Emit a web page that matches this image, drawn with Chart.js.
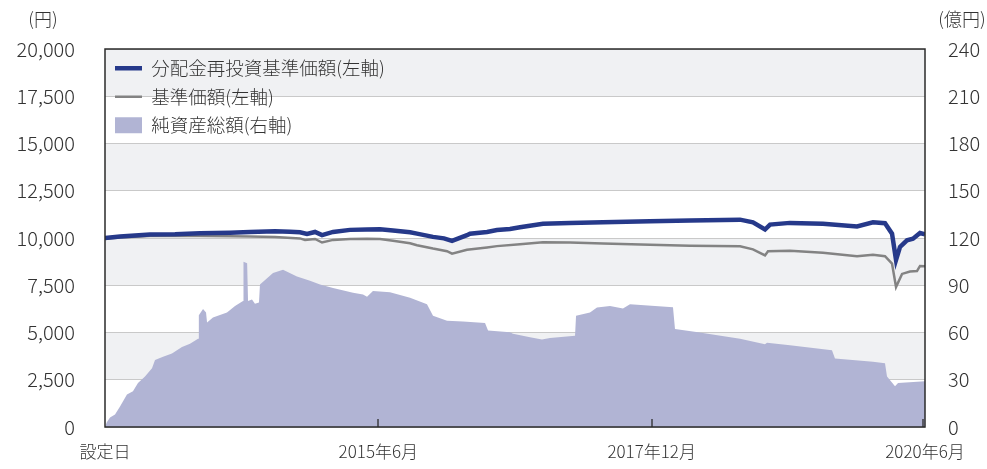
<!DOCTYPE html>
<html><head><meta charset="utf-8">
<script src="https://cdn.jsdelivr.net/npm/chart.js@4/dist/chart.umd.min.js"></script>
<style>html,body{margin:0;padding:0;background:#fff;overflow:hidden}</style>
</head><body>
<canvas id="c" width="987" height="469"></canvas>
<script>
// ---- data (x = months since 設定日) ----
const xTickValues = [0, 30, 60, 90];
const xTickLabels = ['設定日', '2015年6月', '2017年12月', '2020年6月'];
const leftUnit = '(円)';
const rightUnit = '(億円)';
const seriesNames = ['分配金再投資基準価額(左軸)', '基準価額(左軸)', '純資産総額(右軸)'];

const reinvX = [0, 1.65, 4.94, 7.68, 10.43, 13.72, 15.91, 18.66, 20.3, 21.4, 22.17, 23.05, 23.82, 25.03, 26.89, 28.76, 30.18, 31.61, 33.48, 34.24, 36.0, 37.2, 38.09, 39.73, 40.06, 41.93, 43.02, 44.45, 45.55, 48.07, 51.04, 54.66, 59.82, 64.21, 69.7, 71.12, 72.44, 72.99, 75.18, 78.8, 82.54, 84.29, 85.61, 86.38, 86.82, 87.26, 88.02, 88.68, 89.45, 90];
const reinvY = [10000, 10080, 10180, 10200, 10250, 10280, 10320, 10360, 10330, 10300, 10220, 10320, 10150, 10320, 10430, 10450, 10460, 10400, 10300, 10230, 10060, 9980, 9850, 10150, 10230, 10320, 10420, 10480, 10570, 10750, 10800, 10830, 10880, 10920, 10970, 10830, 10450, 10710, 10800, 10750, 10610, 10830, 10780, 10230, 8840, 9530, 9880, 9960, 10260, 10190];

const baseX = [0, 1.65, 4.94, 7.68, 10.43, 13.72, 15.91, 18.66, 21.4, 21.95, 23.05, 23.82, 25.03, 26.89, 28.76, 30.18, 31.61, 33.48, 34.24, 36.0, 37.54, 38.09, 39.73, 41.93, 43.02, 45.55, 48.07, 51.04, 54.66, 59.82, 64.21, 69.7, 71.12, 72.44, 72.77, 75.18, 78.8, 82.54, 84.29, 85.61, 86.38, 86.82, 87.48, 88.35, 89.12, 89.45, 90];
const baseY = [9960, 10020, 10100, 10120, 10110, 10090, 10080, 10050, 9980, 9900, 9950, 9760, 9900, 9950, 9960, 9950, 9850, 9720, 9620, 9440, 9300, 9170, 9380, 9500, 9570, 9670, 9780, 9760, 9710, 9640, 9590, 9560, 9400, 9080, 9300, 9320, 9220, 9030, 9110, 9040, 8650, 7410, 8100, 8230, 8250, 8520, 8500];

const assetX = [0, 0.2, 0.55, 1.1, 1.65, 2.41, 3.07, 3.62, 4.39, 5.16, 5.49, 6.37, 7.35, 8.45, 9.33, 10.21, 10.3, 10.76, 11.09, 11.2, 11.85, 13.39, 14.27, 15.15, 15.2, 15.6, 15.7, 16.13, 16.46, 16.9, 17.01, 18.44, 19.54, 21.07, 22.5, 23.6, 25.03, 27.22, 28.32, 28.76, 29.41, 31.28, 33.48, 35.34, 36.0, 37.54, 39.29, 41.71, 42.04, 44.45, 44.78, 46.65, 47.96, 48.84, 51.59, 51.7, 53.23, 54.0, 55.43, 56.85, 57.62, 62.34, 62.56, 65.09, 69.7, 72.44, 72.66, 75.18, 79.79, 80.12, 84.29, 85.61, 85.83, 86.71, 87.04, 90];
const assetY = [0, 3, 6, 8, 13, 20.6, 22.7, 28, 32, 37.3, 42.5, 44.6, 46.7, 50.8, 52.9, 56, 71, 75, 72.7, 66.4, 69.6, 72.7, 76.9, 80, 105, 104, 80, 81, 78.3, 79, 90.4, 97.7, 99.8, 95.6, 92.9, 90.4, 88.3, 85.2, 84.2, 82.7, 86.3, 85.6, 82, 78, 70.6, 67.5, 67, 66, 61.3, 60.2, 59.2, 57, 55.6, 56.5, 58, 70.6, 72.7, 75.8, 76.9, 75.2, 78, 76, 62.3, 60.2, 56, 52.5, 53.5, 51.9, 48.8, 43.5, 41.5, 40.4, 32, 25.8, 28, 29];

// ---- styles ----
const NAVY = '#26398a', GRAY = '#838383', LAV = '#b1b4d4', BAND = '#f0f1f3', TXT = '#333333';
const FAMILY = '"Noto Sans CJK JP", "Noto Sans", sans-serif';
Chart.defaults.font.family = FAMILY;
Chart.defaults.font.weight = '300';
Chart.defaults.color = TXT;

const toPts = (xs, ys) => xs.map((x, i) => ({x, y: ys[i]}));

const framePlugin = {
  id: 'frame',
  afterLayout(chart) {
    const l = chart.legend;
    if (l) {
      const dy = chart.chartArea.top - l.top;
      l.top += dy; l.bottom += dy;
    }
  },
  beforeDraw(chart) {
    const {ctx, chartArea: a, scales: {y}} = chart;
    ctx.save();
    ctx.fillStyle = '#fff';
    ctx.fillRect(0, 0, chart.width, chart.height);
    ctx.fillStyle = BAND;
    const t = y.ticks;
    for (let i = 0; i < t.length - 1; i++) {
      if (i % 2 === 1) {
        const top = y.getPixelForValue(t[i + 1].value), bot = y.getPixelForValue(t[i].value);
        ctx.fillRect(a.left, top, a.right - a.left, bot - top);
      }
    }
    ctx.restore();
  },
  afterDatasetsDraw(chart) {
    const {ctx, chartArea: a, scales: {x}} = chart;
    ctx.save();
    ctx.strokeStyle = '#2b2b2b';
    ctx.lineWidth = 1.5;
    ctx.strokeRect(a.left, a.top, a.right - a.left, a.bottom - a.top);
    ctx.lineWidth = 1.3;
    xTickValues.forEach(v => {
      if (v === xTickValues[0]) return;
      let px = Math.round(x.getPixelForValue(v));
      if (px >= a.right - 1) px = a.right - 2;
      ctx.beginPath(); ctx.moveTo(px, a.bottom); ctx.lineTo(px, a.bottom - 8); ctx.stroke();
    });
    ctx.fillStyle = TXT;
    ctx.font = '300 18px ' + FAMILY;
    ctx.textBaseline = 'middle';
    ctx.textAlign = 'center';
    ctx.fillText(leftUnit, 43, 19);
    ctx.fillText(rightUnit, 962, 19);
    ctx.restore();
  }
};

new Chart(document.getElementById('c'), {
  type: 'line',
  data: {
    datasets: [
      { label: seriesNames[0], data: toPts(reinvX, reinvY), borderColor: NAVY, borderWidth: 4.5, pointRadius: 0, tension: 0, yAxisID: 'y', fill: false },
      { label: seriesNames[1], data: toPts(baseX, baseY), borderColor: GRAY, borderWidth: 2.5, pointRadius: 0, tension: 0, yAxisID: 'y', fill: false },
      { label: seriesNames[2], data: toPts(assetX, assetY), borderColor: LAV, backgroundColor: LAV, borderWidth: 0, pointRadius: 0, tension: 0, yAxisID: 'y2', fill: 'origin' }
    ]
  },
  options: {
    responsive: false,
    animation: false,
    devicePixelRatio: 1,
    layout: { padding: { top: 49, left: 0, right: 0, bottom: 0 } },
    scales: {
      x: {
        type: 'linear', min: 0, max: 90,
        afterBuildTicks: s => { s.ticks = xTickValues.map(v => ({value: v})); },
        afterFit: s => { s.height = 36; },
        grid: { display: false, drawTicks: false },
        border: { display: false },
        ticks: { autoSkip: false, maxRotation: 0, padding: 14, color: TXT, font: { size: 17 },
          callback: (v) => xTickLabels[xTickValues.indexOf(v)] }
      },
      y: {
        position: 'left', min: 0, max: 20000,
        afterBuildTicks: s => { const t = []; for (let v = 0; v <= 20000; v += 2500) t.push({value: v}); s.ticks = t; },
        afterFit: s => { s.width = 105; },
        grid: { color: '#c9c9c9', lineWidth: 1, drawTicks: false },
        border: { display: false },
        ticks: { padding: 30, color: TXT, font: { size: 20 }, callback: v => v.toLocaleString('en-US') }
      },
      y2: {
        position: 'right', min: 0, max: 240,
        afterBuildTicks: s => { const t = []; for (let v = 0; v <= 240; v += 30) t.push({value: v}); s.ticks = t; },
        afterFit: s => { s.width = 62; },
        grid: { display: false, drawTicks: false },
        border: { display: false },
        ticks: { padding: 23, color: TXT, font: { size: 20 } }
      }
    },
    plugins: {
      tooltip: { enabled: false },
      legend: {
        position: 'chartArea', align: 'start',
        labels: {
          usePointStyle: true, pointStyleWidth: 27, boxHeight: 16, padding: 10,
          color: TXT, font: { size: 18.5 },
          generateLabels: (chart) => [
            { text: seriesNames[0], pointStyle: 'line', strokeStyle: NAVY, fillStyle: NAVY, lineWidth: 4.5, fontColor: TXT, datasetIndex: 0 },
            { text: seriesNames[1], pointStyle: 'line', strokeStyle: GRAY, fillStyle: GRAY, lineWidth: 2.5, fontColor: TXT, datasetIndex: 1 },
            { text: seriesNames[2], pointStyle: 'rect', strokeStyle: LAV, fillStyle: LAV, lineWidth: 0, fontColor: TXT, datasetIndex: 2 }
          ]
        }
      }
    }
  },
  plugins: [framePlugin]
});
</script>
</body></html>
